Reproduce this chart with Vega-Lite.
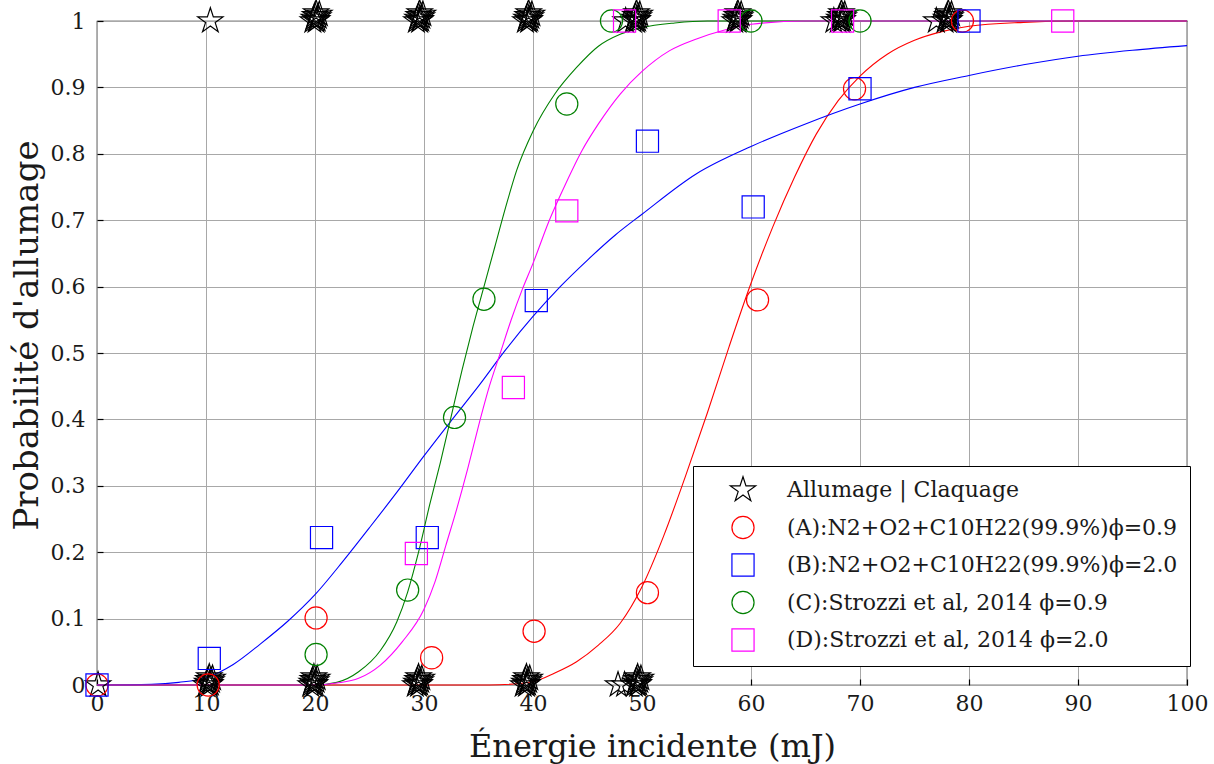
{
"$schema": "https://vega.github.io/schema/vega-lite/v6.json",
"width": 1090, "height": 664,
"autosize": {"type": "none"},
"padding": {"left": 97, "top": 21, "right": 27, "bottom": 79},
"background": "white",
"config": {
  "view": {"stroke": "black", "strokeWidth": 1.2},
  "font": "DejaVu Serif",
  "axis": {"labelFont": "DejaVu Serif", "labelFontSize": 22, "labelColor": "#1a1a1a", "titleFont": "DejaVu Serif", "titleFontSize": 32, "titleFontWeight": "normal", "titleColor": "#1a1a1a", "grid": true, "gridColor": "#a8a8a8", "gridOpacity": 1, "gridWidth": 1, "domain": false, "ticks": true, "tickColor": "black", "tickSize": -6, "tickWidth": 1.2}
},
"datasets": {
"curves": [
{"c":"A","x":0,"y":0},{"c":"A","x":20,"y":0},{"c":"A","x":36,"y":0},{"c":"A","x":40,"y":0.005},{"c":"A","x":42,"y":0.018},{"c":"A","x":44,"y":0.035},{"c":"A","x":46,"y":0.06},{"c":"A","x":48,"y":0.093},{"c":"A","x":50,"y":0.148},{"c":"A","x":52,"y":0.225},{"c":"A","x":54,"y":0.315},{"c":"A","x":56,"y":0.41},{"c":"A","x":58,"y":0.51},{"c":"A","x":60,"y":0.605},{"c":"A","x":62,"y":0.69},{"c":"A","x":64,"y":0.765},{"c":"A","x":66,"y":0.83},{"c":"A","x":68,"y":0.88},{"c":"A","x":70,"y":0.917},{"c":"A","x":72.5,"y":0.95},{"c":"A","x":75,"y":0.971},{"c":"A","x":77.5,"y":0.984},{"c":"A","x":80,"y":0.992},{"c":"A","x":85,"y":0.998},{"c":"A","x":90,"y":1},{"c":"A","x":100,"y":1},
{"c":"B","x":0,"y":0},{"c":"B","x":5,"y":0.001},{"c":"B","x":7.5,"y":0.004},{"c":"B","x":10,"y":0.011},{"c":"B","x":12.5,"y":0.031},{"c":"B","x":15,"y":0.062},{"c":"B","x":17.5,"y":0.096},{"c":"B","x":20,"y":0.136},{"c":"B","x":22.5,"y":0.185},{"c":"B","x":25,"y":0.237},{"c":"B","x":27.5,"y":0.29},{"c":"B","x":30,"y":0.345},{"c":"B","x":32.5,"y":0.398},{"c":"B","x":35,"y":0.45},{"c":"B","x":37.5,"y":0.505},{"c":"B","x":40,"y":0.555},{"c":"B","x":42.5,"y":0.6},{"c":"B","x":45,"y":0.64},{"c":"B","x":47.5,"y":0.677},{"c":"B","x":50,"y":0.709},{"c":"B","x":55,"y":0.77},{"c":"B","x":60,"y":0.811},{"c":"B","x":65,"y":0.845},{"c":"B","x":70,"y":0.875},{"c":"B","x":75,"y":0.9},{"c":"B","x":80,"y":0.918},{"c":"B","x":85,"y":0.934},{"c":"B","x":90,"y":0.947},{"c":"B","x":95,"y":0.956},{"c":"B","x":100,"y":0.963},
{"c":"C","x":0,"y":0},{"c":"C","x":20,"y":0},{"c":"C","x":22,"y":0.004},{"c":"C","x":24,"y":0.02},{"c":"C","x":26,"y":0.052},{"c":"C","x":27.5,"y":0.095},{"c":"C","x":28.5,"y":0.14},{"c":"C","x":29.5,"y":0.2},{"c":"C","x":30.5,"y":0.27},{"c":"C","x":31.5,"y":0.335},{"c":"C","x":32.5,"y":0.405},{"c":"C","x":33.5,"y":0.475},{"c":"C","x":34.5,"y":0.54},{"c":"C","x":35.5,"y":0.6},{"c":"C","x":36.5,"y":0.66},{"c":"C","x":37.5,"y":0.72},{"c":"C","x":38.5,"y":0.775},{"c":"C","x":40,"y":0.834},{"c":"C","x":42,"y":0.89},{"c":"C","x":44,"y":0.93},{"c":"C","x":46,"y":0.962},{"c":"C","x":48,"y":0.98},{"c":"C","x":50,"y":0.99},{"c":"C","x":53,"y":0.997},{"c":"C","x":56,"y":1},{"c":"C","x":100,"y":1},
{"c":"D","x":0,"y":0},{"c":"D","x":20,"y":0},{"c":"D","x":22,"y":0.003},{"c":"D","x":24,"y":0.01},{"c":"D","x":26,"y":0.03},{"c":"D","x":28,"y":0.065},{"c":"D","x":30,"y":0.114},{"c":"D","x":31,"y":0.155},{"c":"D","x":32,"y":0.21},{"c":"D","x":33,"y":0.265},{"c":"D","x":34,"y":0.325},{"c":"D","x":35,"y":0.39},{"c":"D","x":36,"y":0.45},{"c":"D","x":37,"y":0.5},{"c":"D","x":38,"y":0.55},{"c":"D","x":39,"y":0.595},{"c":"D","x":40,"y":0.635},{"c":"D","x":41.5,"y":0.7},{"c":"D","x":43,"y":0.755},{"c":"D","x":44.5,"y":0.805},{"c":"D","x":46,"y":0.845},{"c":"D","x":48,"y":0.89},{"c":"D","x":50,"y":0.924},{"c":"D","x":52.5,"y":0.955},{"c":"D","x":55,"y":0.973},{"c":"D","x":57.5,"y":0.986},{"c":"D","x":60,"y":0.995},{"c":"D","x":65,"y":1},{"c":"D","x":100,"y":1}
],
"pts": [
{"s":"Allumage | Claquage","x":10.4,"y":1},{"s":"Allumage | Claquage","x":48.5,"y":1},{"s":"Allumage | Claquage","x":67.6,"y":1},{"s":"Allumage | Claquage","x":77.0,"y":1},
{"s":"Allumage | Claquage","x":0.1,"y":0},{"s":"Allumage | Claquage","x":47.8,"y":0},{"s":"Allumage | Claquage","x":48.4,"y":0},
{"s":"Allumage | Claquage","x":19.8,"y":1},{"s":"Allumage | Claquage","x":19.9,"y":1.004},{"s":"Allumage | Claquage","x":20.0,"y":1.008},{"s":"Allumage | Claquage","x":20.1,"y":1.012},{"s":"Allumage | Claquage","x":20.2,"y":1.002},{"s":"Allumage | Claquage","x":20.3,"y":1.006},{"s":"Allumage | Claquage","x":20.4,"y":1.01},{"s":"Allumage | Claquage","x":20.1,"y":1},
{"s":"Allumage | Claquage","x":29.3,"y":1},{"s":"Allumage | Claquage","x":29.4,"y":1.004},{"s":"Allumage | Claquage","x":29.5,"y":1.008},{"s":"Allumage | Claquage","x":29.6,"y":1.012},{"s":"Allumage | Claquage","x":29.7,"y":1.002},{"s":"Allumage | Claquage","x":29.8,"y":1.006},{"s":"Allumage | Claquage","x":29.9,"y":1.01},{"s":"Allumage | Claquage","x":29.6,"y":1},
{"s":"Allumage | Claquage","x":39.3,"y":1},{"s":"Allumage | Claquage","x":39.4,"y":1.004},{"s":"Allumage | Claquage","x":39.5,"y":1.008},{"s":"Allumage | Claquage","x":39.6,"y":1.012},{"s":"Allumage | Claquage","x":39.7,"y":1.002},{"s":"Allumage | Claquage","x":39.8,"y":1.006},{"s":"Allumage | Claquage","x":39.9,"y":1.01},{"s":"Allumage | Claquage","x":39.6,"y":1},
{"s":"Allumage | Claquage","x":49.2,"y":1},{"s":"Allumage | Claquage","x":49.3,"y":1.004},{"s":"Allumage | Claquage","x":49.4,"y":1.008},{"s":"Allumage | Claquage","x":49.5,"y":1.012},{"s":"Allumage | Claquage","x":49.6,"y":1.002},{"s":"Allumage | Claquage","x":49.7,"y":1.006},{"s":"Allumage | Claquage","x":49.8,"y":1.01},{"s":"Allumage | Claquage","x":49.5,"y":1},
{"s":"Allumage | Claquage","x":58.5,"y":1},{"s":"Allumage | Claquage","x":58.6,"y":1.004},{"s":"Allumage | Claquage","x":58.7,"y":1.008},{"s":"Allumage | Claquage","x":58.8,"y":1.012},{"s":"Allumage | Claquage","x":58.9,"y":1.002},{"s":"Allumage | Claquage","x":59.0,"y":1.006},{"s":"Allumage | Claquage","x":59.1,"y":1.01},{"s":"Allumage | Claquage","x":58.8,"y":1},
{"s":"Allumage | Claquage","x":68.0,"y":1},{"s":"Allumage | Claquage","x":68.1,"y":1.004},{"s":"Allumage | Claquage","x":68.2,"y":1.008},{"s":"Allumage | Claquage","x":68.3,"y":1.012},{"s":"Allumage | Claquage","x":68.4,"y":1.002},{"s":"Allumage | Claquage","x":68.5,"y":1.006},{"s":"Allumage | Claquage","x":68.6,"y":1.01},{"s":"Allumage | Claquage","x":68.3,"y":1},
{"s":"Allumage | Claquage","x":77.8,"y":1},{"s":"Allumage | Claquage","x":77.9,"y":1.004},{"s":"Allumage | Claquage","x":78.0,"y":1.008},{"s":"Allumage | Claquage","x":78.1,"y":1.012},{"s":"Allumage | Claquage","x":78.2,"y":1.002},{"s":"Allumage | Claquage","x":78.3,"y":1.006},{"s":"Allumage | Claquage","x":78.4,"y":1.01},{"s":"Allumage | Claquage","x":78.1,"y":1},
{"s":"Allumage | Claquage","x":10.0,"y":0},{"s":"Allumage | Claquage","x":10.1,"y":0.004},{"s":"Allumage | Claquage","x":10.2,"y":0.008},{"s":"Allumage | Claquage","x":10.3,"y":0.012},{"s":"Allumage | Claquage","x":10.4,"y":0.002},{"s":"Allumage | Claquage","x":10.5,"y":0.006},{"s":"Allumage | Claquage","x":10.6,"y":0.01},{"s":"Allumage | Claquage","x":10.3,"y":0},
{"s":"Allumage | Claquage","x":19.6,"y":0},{"s":"Allumage | Claquage","x":19.7,"y":0.004},{"s":"Allumage | Claquage","x":19.8,"y":0.008},{"s":"Allumage | Claquage","x":19.9,"y":0.012},{"s":"Allumage | Claquage","x":20.0,"y":0.002},{"s":"Allumage | Claquage","x":20.1,"y":0.006},{"s":"Allumage | Claquage","x":20.2,"y":0.01},{"s":"Allumage | Claquage","x":19.9,"y":0},
{"s":"Allumage | Claquage","x":29.2,"y":0},{"s":"Allumage | Claquage","x":29.3,"y":0.004},{"s":"Allumage | Claquage","x":29.4,"y":0.008},{"s":"Allumage | Claquage","x":29.5,"y":0.012},{"s":"Allumage | Claquage","x":29.6,"y":0.002},{"s":"Allumage | Claquage","x":29.7,"y":0.006},{"s":"Allumage | Claquage","x":29.8,"y":0.01},{"s":"Allumage | Claquage","x":29.5,"y":0},
{"s":"Allumage | Claquage","x":39.1,"y":0},{"s":"Allumage | Claquage","x":39.2,"y":0.004},{"s":"Allumage | Claquage","x":39.3,"y":0.008},{"s":"Allumage | Claquage","x":39.4,"y":0.012},{"s":"Allumage | Claquage","x":39.5,"y":0.002},{"s":"Allumage | Claquage","x":39.6,"y":0.006},{"s":"Allumage | Claquage","x":39.7,"y":0.01},{"s":"Allumage | Claquage","x":39.4,"y":0},
{"s":"Allumage | Claquage","x":49.3,"y":0},{"s":"Allumage | Claquage","x":49.4,"y":0.004},{"s":"Allumage | Claquage","x":49.5,"y":0.008},{"s":"Allumage | Claquage","x":49.6,"y":0.012},{"s":"Allumage | Claquage","x":49.7,"y":0.002},{"s":"Allumage | Claquage","x":49.8,"y":0.006},{"s":"Allumage | Claquage","x":49.9,"y":0.01},{"s":"Allumage | Claquage","x":49.6,"y":0},
{"s":"(A):N2+O2+C10H22(99.9%)ϕ=0.9","x":0,"y":0},{"s":"(A):N2+O2+C10H22(99.9%)ϕ=0.9","x":10.2,"y":0},{"s":"(A):N2+O2+C10H22(99.9%)ϕ=0.9","x":20.1,"y":0.101},{"s":"(A):N2+O2+C10H22(99.9%)ϕ=0.9","x":30.7,"y":0.041},{"s":"(A):N2+O2+C10H22(99.9%)ϕ=0.9","x":40.1,"y":0.081},{"s":"(A):N2+O2+C10H22(99.9%)ϕ=0.9","x":50.5,"y":0.139},{"s":"(A):N2+O2+C10H22(99.9%)ϕ=0.9","x":60.6,"y":0.58},{"s":"(A):N2+O2+C10H22(99.9%)ϕ=0.9","x":69.5,"y":0.898},{"s":"(A):N2+O2+C10H22(99.9%)ϕ=0.9","x":79.4,"y":1},
{"s":"(B):N2+O2+C10H22(99.9%)ϕ=2.0","x":0,"y":0},{"s":"(B):N2+O2+C10H22(99.9%)ϕ=2.0","x":10.3,"y":0.04},{"s":"(B):N2+O2+C10H22(99.9%)ϕ=2.0","x":20.6,"y":0.222},{"s":"(B):N2+O2+C10H22(99.9%)ϕ=2.0","x":30.3,"y":0.222},{"s":"(B):N2+O2+C10H22(99.9%)ϕ=2.0","x":40.3,"y":0.579},{"s":"(B):N2+O2+C10H22(99.9%)ϕ=2.0","x":50.5,"y":0.819},{"s":"(B):N2+O2+C10H22(99.9%)ϕ=2.0","x":60.2,"y":0.72},{"s":"(B):N2+O2+C10H22(99.9%)ϕ=2.0","x":70.0,"y":0.898},{"s":"(B):N2+O2+C10H22(99.9%)ϕ=2.0","x":80.0,"y":1},
{"s":"(C):Strozzi et al, 2014 ϕ=0.9","x":20.1,"y":0.046},{"s":"(C):Strozzi et al, 2014 ϕ=0.9","x":28.5,"y":0.143},{"s":"(C):Strozzi et al, 2014 ϕ=0.9","x":32.8,"y":0.403},{"s":"(C):Strozzi et al, 2014 ϕ=0.9","x":35.5,"y":0.581},{"s":"(C):Strozzi et al, 2014 ϕ=0.9","x":43.1,"y":0.875},{"s":"(C):Strozzi et al, 2014 ϕ=0.9","x":47.2,"y":1},{"s":"(C):Strozzi et al, 2014 ϕ=0.9","x":60.0,"y":1},{"s":"(C):Strozzi et al, 2014 ϕ=0.9","x":70.0,"y":1},
{"s":"(D):Strozzi et al, 2014 ϕ=2.0","x":29.3,"y":0.198},{"s":"(D):Strozzi et al, 2014 ϕ=2.0","x":38.2,"y":0.448},{"s":"(D):Strozzi et al, 2014 ϕ=2.0","x":43.1,"y":0.714},{"s":"(D):Strozzi et al, 2014 ϕ=2.0","x":48.4,"y":1},{"s":"(D):Strozzi et al, 2014 ϕ=2.0","x":58.0,"y":1},{"s":"(D):Strozzi et al, 2014 ϕ=2.0","x":68.4,"y":1},{"s":"(D):Strozzi et al, 2014 ϕ=2.0","x":88.6,"y":1}
]
},
"layer": [
{
  "data": {"name": "curves"},
  "mark": {"type": "line", "strokeWidth": 1.1, "interpolate": "monotone"},
  "encoding": {
    "x": {"field": "x", "type": "quantitative", "scale": {"domain": [0, 100], "nice": false},
      "axis": {"values": [0,10,20,30,40,50,60,70,80,90,100], "title": "Énergie incidente (mJ)", "labelFlush": false, "labelPadding": 14, "titleX": 555, "titleY": 71, "titleBaseline": "alphabetic"}},
    "y": {"field": "y", "type": "quantitative", "scale": {"domain": [0, 1], "nice": false},
      "axis": {"values": [0,0.1,0.2,0.3,0.4,0.5,0.6,0.7,0.8,0.9,1], "format": "~g", "title": "Probabilité d'allumage", "titleFontSize": 34, "labelPadding": 18, "titleX": -60, "titleY": 314, "titleBaseline": "alphabetic", "titleAngle": -90}},
    "stroke": {"field": "c", "type": "nominal", "scale": {"domain": ["A","B","C","D"], "range": ["#ff0000","#0000ff","#008000","#ff00ff"]}, "legend": null}
  }
},
{
  "data": {"name": "pts"},
  "mark": {"type": "point", "filled": false, "size": 490, "strokeWidth": 1.2, "opacity": 1},
  "encoding": {
    "x": {"field": "x", "type": "quantitative"},
    "y": {"field": "y", "type": "quantitative"},
    "color": {"field": "s", "type": "nominal",
      "scale": {"domain": ["Allumage | Claquage","(A):N2+O2+C10H22(99.9%)ϕ=0.9","(B):N2+O2+C10H22(99.9%)ϕ=2.0","(C):Strozzi et al, 2014 ϕ=0.9","(D):Strozzi et al, 2014 ϕ=2.0"], "range": ["#000000","#ff0000","#0000ff","#008000","#ff00ff"]},
      "legend": {"title": null, "orient": "none", "legendX": 596, "legendY": 445, "padding": 12, "strokeColor": "black", "fillColor": "white", "labelFont": "DejaVu Serif", "labelFontSize": 22, "labelColor": "#1a1a1a", "labelLimit": 700, "symbolOffset": 26, "labelOffset": 32, "rowPadding": 9.5, "symbolStrokeWidth": 1.2, "symbolSize": 490}},
    "shape": {"field": "s", "type": "nominal",
      "scale": {"domain": ["Allumage | Claquage","(A):N2+O2+C10H22(99.9%)ϕ=0.9","(B):N2+O2+C10H22(99.9%)ϕ=2.0","(C):Strozzi et al, 2014 ϕ=0.9","(D):Strozzi et al, 2014 ϕ=2.0"], "range": ["M0,-1.2L0.269,-0.371L1.141,-0.371L0.436,0.142L0.706,0.971L0,0.458L-0.706,0.971L-0.436,0.142L-1.141,-0.371L-0.269,-0.371Z","circle","square","circle","square"]}}
  }
}
]
}
